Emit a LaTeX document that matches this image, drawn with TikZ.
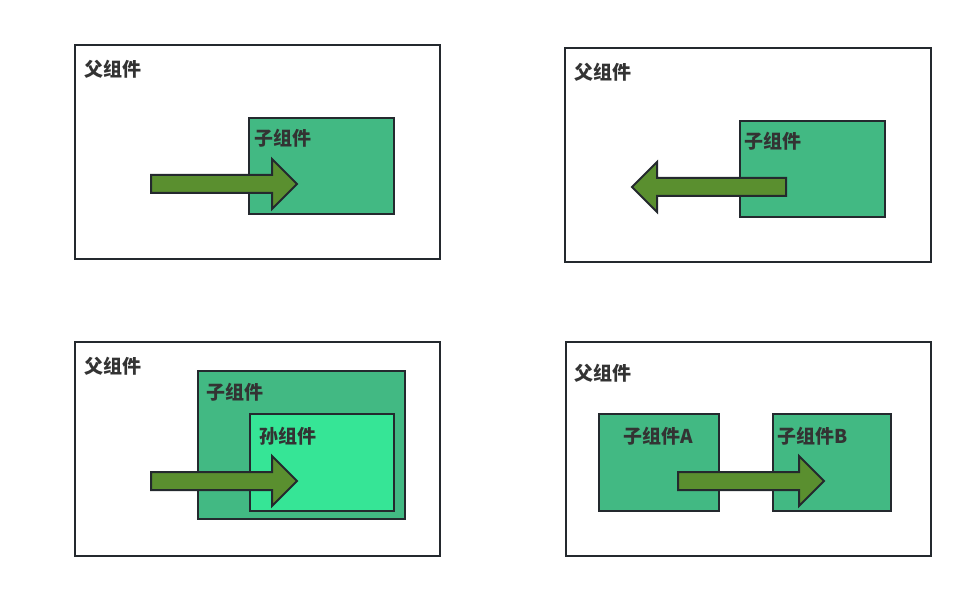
\documentclass[tikz,border=0pt]{standalone}
\usepackage{fontspec}
\newfontfamily\cjk{Noto Sans CJK SC}
\definecolor{edge}{HTML}{24292E}
\definecolor{childgreen}{HTML}{42B983}
\definecolor{grandgreen}{HTML}{36E596}
\definecolor{arrowgreen}{HTML}{5A8F2F}
\definecolor{labelgray}{HTML}{333333}
\tikzset{
  parentbox/.style={draw=edge,line width=2pt,fill=white,anchor=north west,inner sep=0pt},
  childbox/.style={draw=edge,line width=2pt,fill=childgreen,anchor=north west,inner sep=0pt},
  grandbox/.style={draw=edge,line width=2pt,fill=grandgreen,anchor=north west,inner sep=0pt},
  comptext/.style={anchor=west,inner sep=0pt,text=labelgray,font=\cjk\bfseries\fontsize{19}{19}\selectfont},
  blockarrow/.style={draw=edge,line width=2pt,fill=arrowgreen,line join=miter}
}
\begin{document}
\begin{tikzpicture}[x=1pt,y=-1pt]
\useasboundingbox (0,0) rectangle (968,593);
% top left: parent to child
\node [parentbox,minimum width=365,minimum height=214] (tlparent) at (74,44){};
\node [childbox,minimum width=145,minimum height=96] (tlchild) at (248,117){};
\node [comptext] (tlparenttext) at (84,69){父组件};
\node [comptext] (tlchildtext) at (254,138){子组件};
\draw[blockarrow] (151,175)--(272,175)--(272,159)--(297,184)--(272,209)--(272,193)--(151,193)--cycle;
% top right: child to parent
\node [parentbox,minimum width=366,minimum height=214] (trparent) at (564,47){};
\node [childbox,minimum width=145,minimum height=96] (trchild) at (739,120){};
\node [comptext] (trparenttext) at (574,72){父组件};
\node [comptext] (trchildtext) at (744,141){子组件};
\draw[blockarrow] (786,178)--(657,178)--(657,162)--(632,187)--(657,212)--(657,196)--(786,196)--cycle;
% bottom left: parent to grandchild
\node [parentbox,minimum width=365,minimum height=214] (blparent) at (74,341){};
\node [childbox,minimum width=207,minimum height=148] (blchild) at (197,370){};
\node [grandbox,minimum width=144,minimum height=97] (blgrand) at (249,413){};
\node [comptext] (blparenttext) at (84,366){父组件};
\node [comptext] (blchildtext) at (206,392){子组件};
\node [comptext] (blgrandtext) at (259,436){孙组件};
\draw[blockarrow] (151,472)--(272,472)--(272,456)--(297,481)--(272,506)--(272,490)--(151,490)--cycle;
% bottom right: sibling to sibling
\node [parentbox,minimum width=365,minimum height=214] (brparent) at (565,341){};
\node [childbox,minimum width=120,minimum height=97] (brchilda) at (598,413){};
\node [childbox,minimum width=118,minimum height=97] (brchildb) at (772,413){};
\node [comptext] (brparenttext) at (574,373){父组件};
\node [comptext] (brchildatext) at (623,436){子组件A};
\node [comptext] (brchildbtext) at (777,436){子组件B};
\draw[blockarrow] (678,472)--(799,472)--(799,456)--(824,481)--(799,506)--(799,490)--(678,490)--cycle;
\end{tikzpicture}
\end{document}
